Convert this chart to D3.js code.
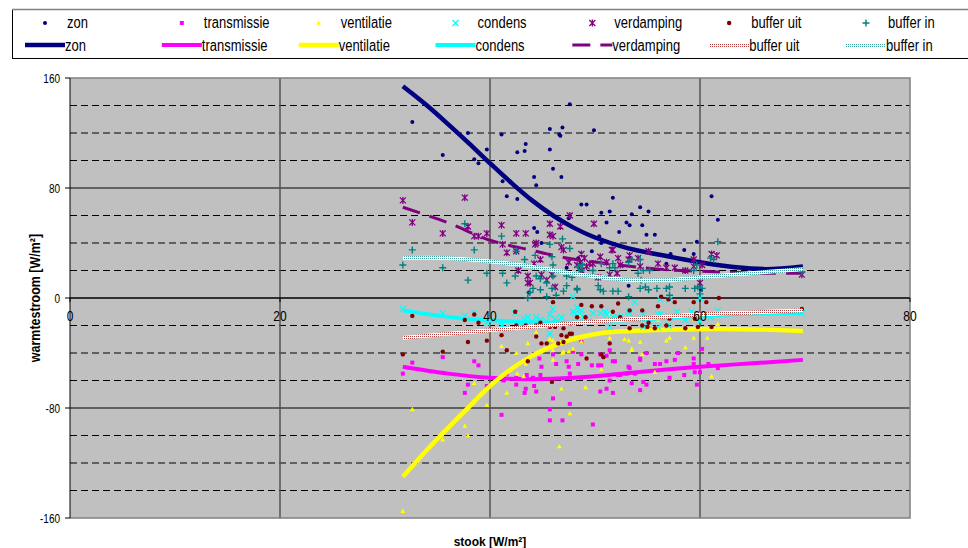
<!DOCTYPE html>
<html>
<head>
<meta charset="utf-8">
<script src="https://cdn.jsdelivr.net/npm/d3@7"></script>
<style>
  body { margin: 0; background: #fff; }
  svg { display: block; font-family: "Liberation Sans", Arial, sans-serif; }
</style>
</head>
<body>
<svg id="chart" width="968" height="548"></svg>
<script>
// ---- axis ticks ----
const xTicks = [0, 20, 40, 60, 80];
const yTicks = [-160, -80, 0, 80, 160];
const yMinor = [-140, -120, -100, -60, -40, -20, 20, 40, 60, 100, 120, 140];

// ---- series names ----
const seriesNames = ["zon", "transmissie", "ventilatie", "condens", "verdamping", "buffer uit", "buffer in"];

// ---- measured points [stook, warmtestroom] ----
const zonPts = [[32.6,128],[35.5,104],[37.9,120],[38.5,101],[38.9,98],[39.7,108],[41.1,119],[41.2,85],[41.6,74],
  [42.6,106],[43.3,107],[43.4,112],[42.6,72],[44.2,88],[44.4,82],[45.7,123],[45.7,108],[46.0,94],[46.6,119],
  [46.9,124],[46.8,88],[47.6,141],[49.9,122],[44.2,51],[44.5,48],[44.9,40],[47.5,58],[48.7,68],[49.2,68],
  [50.6,62],[51.4,63],[51.7,73],[51.1,55],[52.3,48],[53.0,55],[53.3,53],[50.4,45],[54.3,66],[55.1,63],
  [53.5,61],[54.5,53],[54.9,46],[55.7,46],[50.6,40],[59.7,41],[58.5,35],[49.7,34],[57.2,32],[59.4,32],
  [61.1,74],[61.7,57],[53.2,9],[60.1,6],[43.7,4],[47.3,22],[46.7,118],[48.4,29],[56.8,25]];
const transPts = [[31.7,-55],[32.6,-47],[35.5,-43],[37.6,-69],[37.9,-63],[38.5,-46],[38.9,-49],[39.7,-64],
  [41.1,-85],[41.3,-60],[41.6,-55],[42.5,-63],[43.4,-66],[43.3,-69],[44.2,-64],[44.4,-68],[44.7,-44],[44.9,-50],
  [45.7,-81],[45.7,-89],[46.0,-73],[46.9,-89],[47.6,-77],[47.5,-50],[47.3,-46],[47.9,-39],[48.7,-32],[48.4,-48],
  [49.8,-92],[50.5,-68],[51.1,-66],[51.4,-60],[51.7,-46],[51.4,-38],[51.1,-42],[50.3,-49],[49.7,-49],[46.0,-41],
  [46.3,-48],[44.8,-56],[44.1,-58],[42.5,-58],[43.5,-56],[53.2,-50],[52.4,-56],[50.5,-41],[48.7,-58],[52.2,-56],
  [53.0,-55],[53.5,-62],[53.8,-55],[54.3,-67],[54.6,-61],[54.9,-63],[51.7,-69],[57.1,-58],[58.5,-56],[59.5,-54],
  [60.0,-54],[59.7,-63],[47.6,-55],[50.6,-49],[51.9,-46],[53.3,-51],[54.3,-45],[55.7,-48],[56.2,-48],[56.8,-46],
  [57.6,-45],[59.4,-48],[48.7,-41],[54.3,-44],[54.9,-40],[57.9,-40],[59.4,-44],[60.2,-37],[60.8,-48],[61.7,-51]];
const ventPts = [[31.7,-155],[32.6,-81],[35.5,-103],[37.6,-93],[37.9,-100],[38.5,-62],[39.7,-78],[41.1,-35],
  [41.6,-69],[42.5,-40],[42.6,-55],[43.4,-48],[43.6,-33],[44.4,-25],[46.0,-31],[46.9,-40],[46.8,-66],[46.6,-108],
  [47.5,-39],[47.6,-84],[47.9,-37],[48.7,-32],[49.1,-65],[51.4,-29],[51.4,-33],[50.6,-52],[43.2,-57],[53.5,-37],
  [54.3,-32],[54.5,-41],[56.8,-31],[57.1,-29],[58.6,-36],[59.4,-29],[60.7,-29],[48.6,-12],[51.4,-12],[59.8,-20],
  [59.4,-15],[56.0,-16],[55.7,-54],[61.1,-57],[61.7,-19],[53.5,-38],[45.7,-30],[46.0,-38],[47.0,-39],[46.0,-45],
  [52.8,-30],[53.2,-31]];
const condPts = [[31.7,-8],[35.5,-11],[37.6,-13],[38.5,-11],[39.7,-18],[41.1,-20],[41.5,-22],[42.4,-11],[43.2,-15],
  [43.6,-14],[44.0,-17],[44.4,-14],[44.8,-16],[45.4,-17],[45.7,-12],[46.0,-8],[46.2,-15],[46.4,-18],[46.8,-14],
  [47.9,-10],[48.6,-11],[48.9,-14],[49.4,-17],[49.8,-11],[50.5,-11],[51.1,-12],[51.7,-14],[52.4,-14],[53.2,-10],
  [45.7,-26],[44.4,-20],[47.9,1],[48.1,-11],[48.7,-9],[53.8,-3],[56.2,-1],[57.1,-1],[60.0,0],[55.2,-17],[56.3,-12],
  [58.6,-16],[59.7,-14],[51.4,-21],[54.4,-15],[51.0,-10],[52.1,-14],[53.3,-11],[54.6,-12],[56.0,-12],[57.1,-14],
  [57.8,-10],[59.2,-10],[60.0,-17],[61.0,-14],[61.7,-9],[69.7,-11],[54.6,-21],[56.0,-21],[57.0,-20],[42.9,-20],
  [48.3,-7]];
const verdPts = [[31.7,71],[32.6,55],[35.5,47],[37.6,73],[37.9,52],[38.5,45],[38.9,45],[39.7,47],[41.1,53],[41.2,39],
  [41.6,33],[42.5,47],[43.4,47],[42.5,34],[44.3,39],[44.2,25],[43.6,11],[45.7,54],[45.7,46],[46.0,45],[46.7,52],
  [46.8,37],[47.6,60],[45.9,17],[48.7,32],[49.9,54],[48.7,20],[50.5,30],[51.1,26],[51.7,35],[52.2,29],[53.2,28],
  [48.6,26],[49.2,23],[49.8,25],[49.0,29],[49.5,25],[48.3,24],[51.6,35],[52.4,24],[53.3,31],[54.1,29],[55.1,34],
  [54.3,23],[56.0,25],[56.8,22],[57.6,22],[58.6,20],[59.4,23],[60.2,24],[61.1,32],[61.6,31],[69.7,17],[60.0,11],
  [44.8,28],[47.0,35],[47.5,26],[43.8,11],[43.6,16],[44.9,17],[45.4,13],[46.2,8],[42.7,20],[44.4,40],[50.3,15],
  [51.4,17],[52.1,18],[59.4,28]];
const bufUitPts = [[31.7,-41],[32.6,-13],[35.5,-39],[37.6,-16],[38.5,-12],[38.9,-18],[37.9,-32],[39.7,-31],[41.1,-27],
  [41.6,-38],[42.4,-10],[42.5,-20],[43.4,-20],[43.6,-46],[44.4,-28],[44.9,-33],[45.4,-33],[46.0,-3],[45.7,-21],
  [45.9,-61],[46.8,-27],[47.3,-28],[47.6,-26],[46.5,-33],[47.0,-22],[48.7,-5],[49.7,-6],[50.6,-6],[48.3,-14],
  [49.1,-14],[49.2,-44],[50.6,-41],[51.4,-33],[52.2,-4],[51.7,-10],[52.4,-14],[53.3,-9],[54.5,-9],[55.1,-18],
  [55.7,-22],[56.0,-6],[56.3,1],[57.0,-1],[57.1,-15],[56.8,-20],[57.6,-3],[58.6,-22],[59.4,-3],[59.5,-15],[60.6,-3],
  [61.1,-21],[47.8,-26],[61.8,0],[69.7,-8],[47.0,-32],[44.4,-20],[44.8,-18],[46.2,-21],[53.3,-22],[54.5,-20],
  [55.0,-21],[59.8,-21],[50.8,-43]];
const bufInPts = [[31.7,24],[32.6,35],[35.5,22],[37.6,54],[38.5,35],[37.9,13],[39.7,18],[41.1,45],[41.2,18],[41.6,11],
  [42.5,34],[42.4,16],[43.3,28],[44.3,31],[44.4,16],[45.7,39],[46.9,43],[45.9,30],[46.0,24],[47.6,36],[47.3,16],
  [48.8,24],[49.8,20],[43.8,4],[44.8,14],[45.4,11],[46.0,16],[46.3,2],[45.4,1],[47.0,5],[44.8,6],[45.9,7],[47.3,9],
  [47.8,15],[48.3,7],[44.1,7],[43.6,0],[48.4,23],[48.7,20],[48.3,6],[50.6,25],[51.7,25],[53.5,28],[54.3,28],[50.3,9],
  [50.5,6],[50.8,5],[51.7,5],[52.2,5],[53.2,1],[54.3,7],[54.8,8],[55.1,6],[55.9,7],[56.8,7],[57.1,8],[58.6,7],
  [59.5,7],[60.2,7],[59.4,20],[59.7,24],[61.3,28],[61.7,41],[54.1,18],[55.2,20],[61.0,29],[60.0,3],[57.1,2],
  [54.4,13],[59.8,8],[53.2,26],[54.6,20],[51.4,22],[51.9,22],[69.7,19]];

// ---- trend curves [stook, warmtestroom] ----
const zonTrend = [[31.7,154],[34,140],[36,126.5],[38,112.5],[40,98],[42,84],[44,71],[46,60],[48,51],[50,44],[53,36.5],[56.8,30.5],[60,26],[63.2,22.5],[66.3,21],[69.8,23]];
const transTrend = [[31.7,-50],[36,-55],[40,-58],[44,-59],[48,-58],[52,-55.5],[56,-52.5],[60,-50],[65,-47.5],[69.8,-45]];
const ventTrend = [[31.7,-130],[34.3,-108],[37.5,-83],[40.6,-60],[43.8,-43],[47,-32],[50.2,-26],[53.3,-24],[57,-23],[62,-22.5],[66,-23],[69.8,-24]];
const condTrend = [[31.7,-9],[37.5,-15],[42.2,-17],[47,-18],[53.3,-16],[60,-13],[65,-11.5],[69.8,-11]];
const verdTrend = [[31.7,66],[35.9,55],[40,42],[43.8,35],[47,29.5],[51.7,24.5],[56,21],[61.6,19],[66.3,18],[69.8,18]];
const bufUitTrend = [[31.7,-29],[40,-23.5],[48.6,-18],[53.3,-15.5],[60,-12],[65,-10.5],[69.8,-9]];
const bufInTrend = [[31.7,29],[36,29],[40,26.5],[43.8,23],[48.6,17],[53.3,13],[57,13],[60,15],[64.8,18],[69.8,21]];

// ---- drawing ----
const svg = d3.select("#chart");
const x = d3.scaleLinear().domain([0, 80]).range([70, 910]);
const y = d3.scaleLinear().domain([-160, 160]).range([518, 78]);

const defs = svg.append("defs");
function checker(id, color) {
  const p = defs.append("pattern").attr("id", id)
    .attr("patternUnits", "userSpaceOnUse").attr("width", 2).attr("height", 2);
  p.append("rect").attr("width", 2).attr("height", 2).attr("fill", "#fff");
  p.append("rect").attr("width", 1).attr("height", 1).attr("fill", color);
}
checker("patUit", "#b04040");
checker("patIn", "#40a0a0");

const series = [
  { name: seriesNames[0], pts: zonPts,    trend: zonTrend,    color: "#000080", marker: "dot",      lw: 4.5 },
  { name: seriesNames[1], pts: transPts,  trend: transTrend,  color: "#FF00FF", marker: "square",   lw: 4 },
  { name: seriesNames[2], pts: ventPts,   trend: ventTrend,   color: "#FFFF00", marker: "triangle", lw: 4.5 },
  { name: seriesNames[3], pts: condPts,   trend: condTrend,   color: "#00FFFF", marker: "x",        lw: 4 },
  { name: seriesNames[4], pts: verdPts,   trend: verdTrend,   color: "#800080", marker: "star",     lw: 3, dash: "18,10" },
  { name: seriesNames[5], pts: bufUitPts, trend: bufUitTrend, color: "#800000", marker: "circle",   lw: 4, stroke: "url(#patUit)" },
  { name: seriesNames[6], pts: bufInPts,  trend: bufInTrend,  color: "#008080", marker: "plus",     lw: 4, stroke: "url(#patIn)" }
];

function drawMarker(g, type, color, cx, cy) {
  switch (type) {
    case "dot":
      g.append("circle").attr("cx", cx).attr("cy", cy).attr("r", 2).attr("fill", color);
      break;
    case "square":
      g.append("rect").attr("x", cx - 2).attr("y", cy - 2).attr("width", 4).attr("height", 4).attr("fill", color);
      break;
    case "triangle":
      g.append("path").attr("d", `M${cx},${cy - 2.6}L${cx + 2.4},${cy + 1.8}L${cx - 2.4},${cy + 1.8}Z`).attr("fill", color);
      break;
    case "x":
      g.append("path").attr("d", `M${cx - 3},${cy - 3}L${cx + 3},${cy + 3}M${cx - 3},${cy + 3}L${cx + 3},${cy - 3}`)
        .attr("stroke", color).attr("stroke-width", 1.3).attr("fill", "none");
      break;
    case "star":
      g.append("path").attr("d", `M${cx - 3},${cy - 3}L${cx + 3},${cy + 3}M${cx - 3},${cy + 3}L${cx + 3},${cy - 3}M${cx},${cy - 3.5}L${cx},${cy + 3.5}`)
        .attr("stroke", color).attr("stroke-width", 1.3).attr("fill", "none");
      break;
    case "circle":
      g.append("circle").attr("cx", cx).attr("cy", cy).attr("r", 2.2).attr("fill", color);
      break;
    case "plus":
      g.append("path").attr("d", `M${cx - 3.5},${cy}L${cx + 3.5},${cy}M${cx},${cy - 3.5}L${cx},${cy + 3.5}`)
        .attr("stroke", color).attr("stroke-width", 1.4).attr("fill", "none");
      break;
  }
}

function label(g, px, py, s, size, anchor, sy, weight) {
  return g.append("text")
    .attr("transform", `translate(${px},${py}) scale(1,${sy})`)
    .attr("font-size", size).attr("text-anchor", anchor)
    .attr("font-weight", weight || "normal").attr("fill", "#000").text(s);
}

// plot area
const plot = svg.append("g");
plot.append("rect").attr("x", x(0)).attr("y", y(160)).attr("width", x(80) - x(0)).attr("height", y(-160) - y(160))
  .attr("fill", "#C0C0C0");

plot.selectAll(".minor").data(yMinor).join("line")
  .attr("x1", x(0)).attr("x2", x(80)).attr("y1", d => y(d)).attr("y2", d => y(d))
  .attr("stroke", "#000").attr("stroke-width", 1).attr("stroke-dasharray", "7,4");
plot.selectAll(".major").data(yTicks.filter(d => Math.abs(d) < 160)).join("line")
  .attr("x1", x(0)).attr("x2", x(80)).attr("y1", d => y(d)).attr("y2", d => y(d))
  .attr("stroke", "#000").attr("stroke-width", 1);
plot.selectAll(".vgrid").data(xTicks.filter(d => d > 0 && d < 80)).join("line")
  .attr("x1", d => x(d)).attr("x2", d => x(d)).attr("y1", y(160)).attr("y2", y(-160))
  .attr("stroke", "#555").attr("stroke-width", 1.5);

// plot border (top, right, bottom)
plot.append("path")
  .attr("d", `M${x(0)},${y(160)}H${x(80)}V${y(-160)}H${x(0)}`)
  .attr("fill", "none").attr("stroke", "#808080").attr("stroke-width", 1.5);

// value axis
plot.append("line").attr("x1", x(0)).attr("x2", x(0)).attr("y1", y(160)).attr("y2", y(-160))
  .attr("stroke", "#000").attr("stroke-width", 1);
plot.selectAll(".ytick").data(yTicks).join("line")
  .attr("x1", x(0) - 5).attr("x2", x(0)).attr("y1", d => y(d)).attr("y2", d => y(d))
  .attr("stroke", "#000");
// category axis at zero
plot.append("line").attr("x1", x(0)).attr("x2", x(80)).attr("y1", y(0)).attr("y2", y(0))
  .attr("stroke", "#000").attr("stroke-width", 1);
plot.selectAll(".xtick").data(xTicks).join("line")
  .attr("x1", d => x(d)).attr("x2", d => x(d)).attr("y1", y(0)).attr("y2", y(0) + 4)
  .attr("stroke", "#000");

// series: markers then trend curve
const line = d3.line().x(d => x(d[0])).y(d => y(d[1])).curve(d3.curveCatmullRom.alpha(0.5));
const dataG = svg.append("g");
series.forEach(s => {
  const g = dataG.append("g");
  s.pts.forEach(p => drawMarker(g, s.marker, s.color, x(p[0]), y(p[1])));
  g.append("path").attr("d", line(s.trend)).attr("fill", "none")
    .attr("stroke", s.stroke || s.color).attr("stroke-width", s.lw)
    .attr("stroke-dasharray", s.dash || null).attr("stroke-linecap", "butt");
});

// tick labels
const txtG = svg.append("g");
yTicks.forEach(v => label(txtG, x(0) - 10, y(v) + 4.5, String(v), 10, "end", 1.3));
xTicks.forEach(v => label(txtG, x(v), y(0) + 23, String(v), 12, "middle", 1.15));

// axis titles
label(txtG, x(40), 546, "stook [W/m²]", 12, "middle", 1.1, "bold");
txtG.append("text")
  .attr("transform", `translate(40,${y(0)}) rotate(-90) scale(1,1.1)`)
  .attr("font-size", 12.5).attr("font-weight", "bold").attr("text-anchor", "middle")
  .text("warmtestroom [W/m²]");

// legend
const leg = svg.append("g");
leg.append("rect").attr("x", 12.5).attr("y", 9.5).attr("width", 965).attr("height", 49)
  .attr("fill", "#fff").attr("stroke", "#000").attr("stroke-width", 1);
leg.append("line").attr("x1", 12).attr("x2", 968).attr("y1", 9.5).attr("y2", 9.5)
  .attr("stroke", "#808080").attr("stroke-width", 1.5);
const colX = d3.scaleLinear().domain([0, 6]).range([45, 866]);
series.forEach((s, i) => {
  const cx = colX(i);
  drawMarker(leg, s.marker, s.color, cx, 23);
  label(leg, cx + 22, 27.5, s.name, 13, "start", 1.25);
  leg.append("line").attr("x1", cx - 20).attr("x2", cx + 20).attr("y1", 45).attr("y2", 45)
    .attr("stroke", s.stroke || s.color).attr("stroke-width", s.lw)
    .attr("stroke-dasharray", s.dash || null);
  label(leg, cx + 20, 50.5, s.name, 13, "start", 1.25);
});
</script>
</body>
</html>
